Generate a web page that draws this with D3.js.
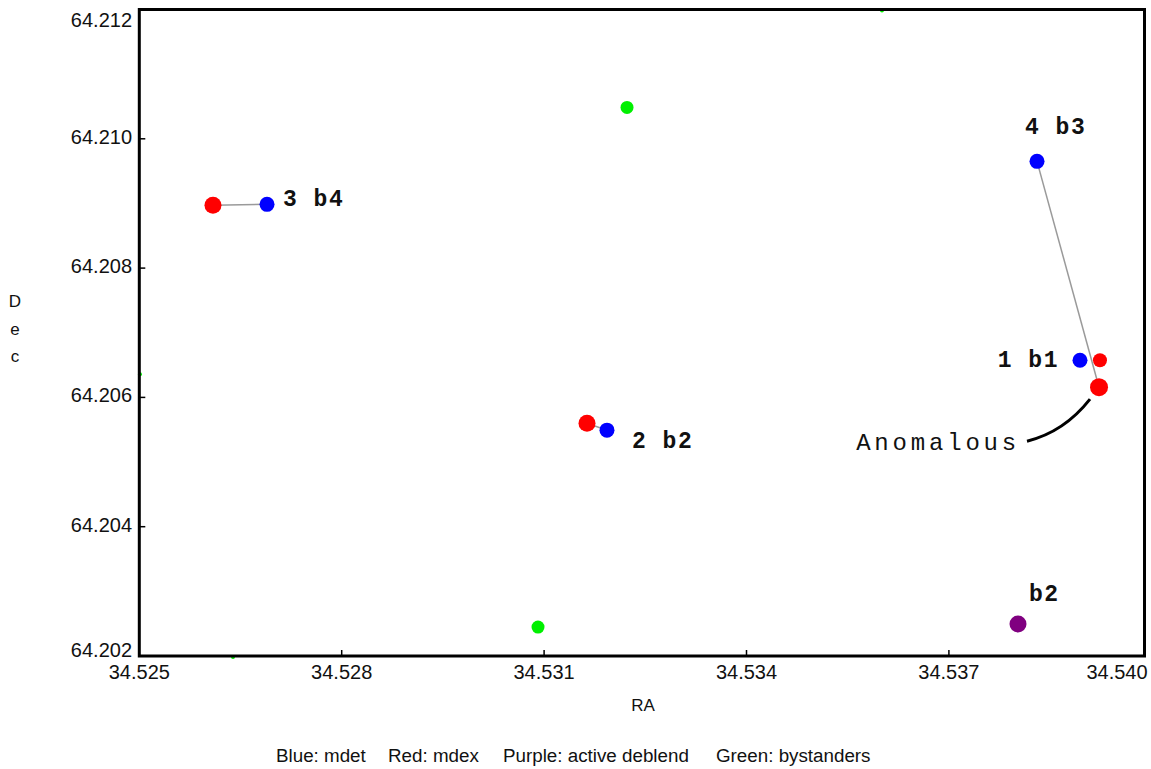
<!DOCTYPE html>
<html>
<head>
<meta charset="utf-8">
<script src="https://cdn.jsdelivr.net/npm/d3@7"></script>
<style>
  html, body { margin: 0; padding: 0; background: #fff; }
  svg { display: block; }
</style>
</head>
<body>
<script>
// ---------------- DATA ----------------
const xTicks = [34.525, 34.528, 34.531, 34.534, 34.537, 34.540];
const yTicks = [64.202, 64.204, 64.206, 64.208, 64.210, 64.212];
const xTickLabels = ["34.525", "34.528", "34.531", "34.534", "34.537", "34.540"];
const yTickLabels = ["64.202", "64.204", "64.206", "64.208", "64.210", "64.212"];

// mdet (blue)
const blueIds = ["3", "2", "4", "1"];
const blueRA  = [34.526893, 34.531932, 34.538306, 34.538943];
const blueDec = [64.208986, 64.205493, 64.209651, 64.206575];

// mdex (red)
const redIds = ["3", "2", "anom", "1"];
const redRA  = [34.526092, 34.531636, 34.539225, 34.539239];
const redDec = [64.208971, 64.205601, 64.206158, 64.206575];

// active deblend (purple)
const purpleRA  = [34.538024];
const purpleDec = [64.202495];

// bystanders (green)
const greenRA  = [34.532229, 34.530910, 34.536008, 34.525010, 34.526389];
const greenDec = [64.210485, 64.202448, 64.211985, 64.206359, 64.201985];
const greenBig = [true, true, false, false, false];

// match links: blue id -> red id
const linkBlue = ["3", "2", "4"];
const linkRed  = ["3", "2", "anom"];

// labels
const labelTexts = ["3 b4", "2 b2", "4 b3", "1 b1", "b2"];
const labelOf    = ["blue3", "blue2", "blue4", "blue1", "purple0"];

const legendParts = ["Blue: mdet", "Red: mdex", "Purple: active deblend", "Green: bystanders"];
const annotationText = "Anomalous";

// ---------------- LAYOUT ----------------
const W = 1151, H = 769;
const svg = d3.select("body").append("svg").attr("width", W).attr("height", H);

const x = d3.scaleLinear().domain([34.525, 34.540]).range([139.3, 1151.3]);
const y = d3.scaleLinear().domain([64.202, 64.212]).range([656, 9.5]);
const frameRight = 1144.5;

const labelOffsets = {
  "3 b4": {dx: 16, dy: 2, anchor: "start"},
  "2 b2": {dx: 25, dy: 18, anchor: "start"},
  "4 b3": {dx: -12, dy: -27, anchor: "start"},
  "1 b1": {dx: -21, dy: 7, anchor: "end"},
  "b2":   {dx: 11, dy: -23, anchor: "start"}
};

const pos = {};
blueIds.forEach((id, i) => pos["blue" + id] = [x(blueRA[i]), y(blueDec[i])]);
redIds.forEach((id, i) => pos["red" + id] = [x(redRA[i]), y(redDec[i])]);
purpleRA.forEach((v, i) => pos["purple" + i] = [x(v), y(purpleDec[i])]);

// ---------------- LINKS ----------------
svg.append("g").selectAll("line")
  .data(linkBlue.map((b, i) => [pos["blue" + b], pos["red" + linkRed[i]]]))
  .join("line")
  .attr("x1", d => d[0][0]).attr("y1", d => d[0][1])
  .attr("x2", d => d[1][0]).attr("y2", d => d[1][1])
  .attr("stroke", "#9a9a9a").attr("stroke-width", 1.5);

// ---------------- POINTS ----------------
const gPts = svg.append("g");
gPts.selectAll("circle.green")
  .data(greenRA.map((v, i) => ({x: v, y: greenDec[i], big: greenBig[i]})))
  .join("circle")
  .attr("cx", d => x(d.x)).attr("cy", d => y(d.y))
  .attr("r", d => d.big ? 6.5 : 2)
  .attr("fill", "#00f000");

gPts.selectAll("circle.purple")
  .data(purpleRA.map((v, i) => ({x: v, y: purpleDec[i]})))
  .join("circle")
  .attr("cx", d => x(d.x)).attr("cy", d => y(d.y))
  .attr("r", 8.5).attr("fill", "#800080");

gPts.selectAll("circle.red")
  .data(redRA.map((v, i) => ({x: v, y: redDec[i], id: redIds[i]})))
  .join("circle")
  .attr("cx", d => x(d.x)).attr("cy", d => y(d.y))
  .attr("r", d => d.id === "anom" ? 9 : (d.id === "1" ? 7 : 8.5))
  .attr("fill", "#ff0000");

gPts.selectAll("circle.blue")
  .data(blueRA.map((v, i) => ({x: v, y: blueDec[i], id: blueIds[i]})))
  .join("circle")
  .attr("cx", d => x(d.x)).attr("cy", d => y(d.y))
  .attr("r", 7.5)
  .attr("fill", "#0000ff");

// ---------------- FRAME & AXES ----------------
const x0 = x(34.525), yTop = y(64.212), yBot = y(64.202);
svg.append("rect")
  .attr("x", x0).attr("y", yTop)
  .attr("width", frameRight - x0).attr("height", yBot - yTop)
  .attr("fill", "none").attr("stroke", "#000").attr("stroke-width", 3);

const tickFont = "'Liberation Sans', Arial, sans-serif";
// x ticks
svg.append("g").selectAll("line")
  .data(xTicks.filter(v => x(v) > x0 + 5 && x(v) < frameRight - 5))
  .join("line")
  .attr("x1", d => x(d)).attr("x2", d => x(d))
  .attr("y1", yBot).attr("y2", yBot - 6)
  .attr("stroke", "#000").attr("stroke-width", 1.5);
svg.append("g").selectAll("text")
  .data(xTicks)
  .join("text")
  .attr("x", d => Math.min(x(d), 1117))
  .attr("y", 679)
  .attr("text-anchor", "middle")
  .attr("font-family", tickFont).attr("font-size", 20)
  .attr("fill", "#111")
  .text((d, i) => xTickLabels[i]);

// y ticks
svg.append("g").selectAll("line")
  .data(yTicks.filter(v => y(v) > yTop + 5 && y(v) < yBot - 5))
  .join("line")
  .attr("x1", x0).attr("x2", x0 + 6)
  .attr("y1", d => y(d)).attr("y2", d => y(d))
  .attr("stroke", "#000").attr("stroke-width", 1.5);
svg.append("g").selectAll("text")
  .data(yTicks)
  .join("text")
  .attr("x", 132)
  .attr("y", d => Math.max(27, Math.min(657, y(d) + 5)))
  .attr("text-anchor", "end")
  .attr("font-family", tickFont).attr("font-size", 20)
  .attr("fill", "#111")
  .text((d, i) => yTickLabels[i]);

// axis titles
svg.append("text")
  .attr("x", 643).attr("y", 711)
  .attr("text-anchor", "middle")
  .attr("font-family", tickFont).attr("font-size", 17).attr("fill", "#111")
  .text("RA");
const decLetters = "Dec".split("");
svg.append("g").selectAll("text")
  .data(decLetters)
  .join("text")
  .attr("x", 15).attr("y", (d, i) => 307 + i * 27.5)
  .attr("text-anchor", "middle")
  .attr("font-family", tickFont).attr("font-size", 17).attr("fill", "#111")
  .text(d => d);

// ---------------- LABELS ----------------
svg.append("g").selectAll("text")
  .data(labelTexts.map((t, i) => ({t, p: pos[labelOf[i]], o: labelOffsets[t]})))
  .join("text")
  .attr("x", d => d.p[0] + d.o.dx)
  .attr("y", d => d.p[1] + d.o.dy)
  .attr("text-anchor", d => d.o.anchor)
  .attr("font-family", "'Liberation Mono', 'Courier New', monospace")
  .attr("font-weight", "bold")
  .attr("font-size", 23)
  .attr("letter-spacing", 1.5)
  .attr("fill", "#111")
  .text(d => d.t);

// annotation
const pa = pos["redanom"];
svg.append("path")
  .attr("d", `M${pa[0] - 9},${pa[1] + 12} Q${pa[0] - 35},${pa[1] + 45} ${pa[0] - 72},${pa[1] + 54}`)
  .attr("fill", "none").attr("stroke", "#000").attr("stroke-width", 3);
svg.append("text")
  .attr("x", pa[0] - 79).attr("y", pa[1] + 63)
  .attr("text-anchor", "end")
  .attr("font-family", "'Liberation Mono', 'Courier New', monospace")
  .attr("font-size", 24)
  .attr("letter-spacing", 3.8)
  .attr("fill", "#111")
  .text(annotationText);

// ---------------- LEGEND ----------------
const legendX = [276, 388, 503, 716];
svg.append("g").selectAll("text")
  .data(legendParts)
  .join("text")
  .attr("x", (d, i) => legendX[i]).attr("y", 762)
  .attr("font-family", tickFont).attr("font-size", 18.8).attr("fill", "#111")
  .text(d => d);
</script>
</body>
</html>
